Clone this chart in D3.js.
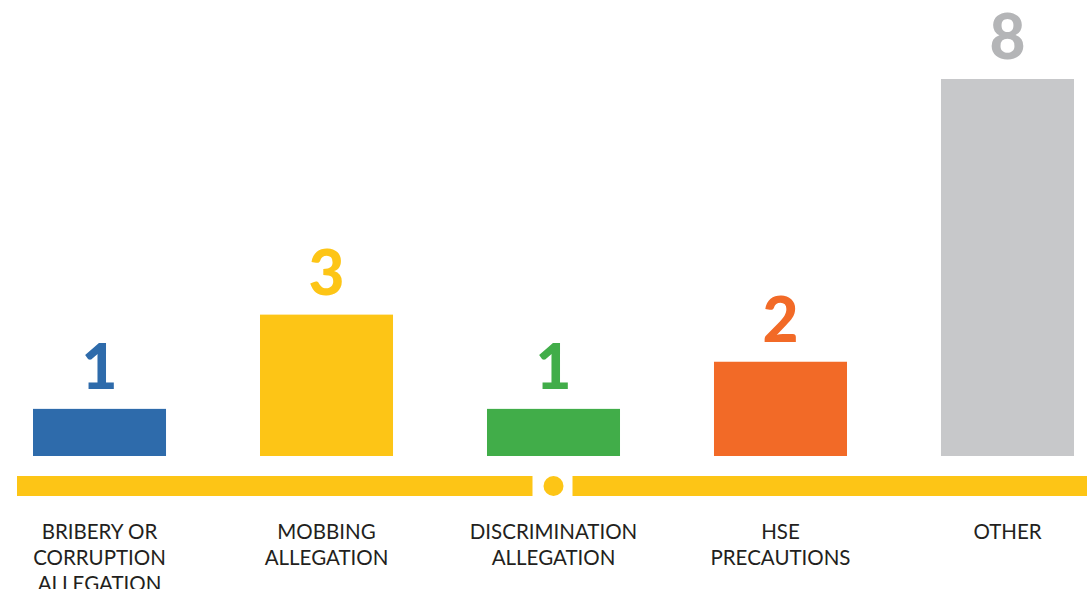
<!DOCTYPE html>
<html><head><meta charset="utf-8">
<script src="https://cdn.jsdelivr.net/npm/d3@7"></script>
<style>html,body{margin:0;padding:0;background:#fff;}svg{display:block;}</style>
</head><body>
<script>
const categories = [["BRIBERY OR","CORRUPTION","ALLEGATION"],["MOBBING","ALLEGATION"],["DISCRIMINATION","ALLEGATION"],["HSE","PRECAUTIONS"],["OTHER"]];
const values = [1, 3, 1, 2, 8];
const barColors = ["#2e6bab", "#fdc516", "#41ad49", "#f26a27", "#c7c8ca"];
const labelColors = ["#2e6bab", "#fdc516", "#41ad49", "#f26a27", "#b4b5b7"];

const W = 1087, H = 589;
const svg = d3.select("body").append("svg").attr("width", W).attr("height", H);
const idx = values.map((d, i) => i);
const x = d3.scaleBand().domain(idx).range([33, 1074]).paddingInner(0.414).paddingOuter(0);
const y = d3.scaleLinear().domain([0, d3.max(values)]).range([456, 79]);

svg.selectAll("rect.bar").data(values).join("rect").attr("class","bar")
  .attr("x", (d,i) => x(i)).attr("width", x.bandwidth())
  .attr("y", d => y(d)).attr("height", d => y(0) - y(d))
  .attr("fill", (d,i) => barColors[i]);

svg.selectAll("text.val").data(values).join("text").attr("class","val")
  .attr("x", (d,i) => x(i) + x.bandwidth()/2)
  .attr("y", d => y(d) - 20)
  .attr("text-anchor","middle")
  .attr("font-family","Lato, 'Open Sans', sans-serif").attr("font-weight",900)
  .attr("font-size",62)
  .attr("fill",(d,i) => labelColors[i])
  .text(d => d);

// axis band
const axisY = 476, axisH = 20, cx = x(2) + x.bandwidth()/2;
svg.append("rect").attr("x",17).attr("y",axisY).attr("width",cx - 21 - 17).attr("height",axisH).attr("fill","#fdc516");
svg.append("rect").attr("x",cx + 19).attr("y",axisY).attr("width",W - cx - 19).attr("height",axisH).attr("fill","#fdc516");
svg.append("circle").attr("cx",cx).attr("cy",axisY + axisH/2).attr("r",10).attr("fill","#fdc516");

const g = svg.selectAll("text.cat").data(categories).join("text").attr("class","cat")
  .attr("x",(d,i) => x(i) + x.bandwidth()/2)
  .attr("y",539)
  .attr("text-anchor","middle")
  .attr("font-family","Lato, 'Open Sans', sans-serif").attr("font-size",20.5)
  .attr("fill","#231f20");
g.selectAll("tspan").data(d => d).join("tspan")
  .attr("x", function(){ return d3.select(this.parentNode).attr("x"); })
  .attr("dy",(d,j) => j === 0 ? 0 : 26)
  .text(d => d);
</script>
</body></html>
